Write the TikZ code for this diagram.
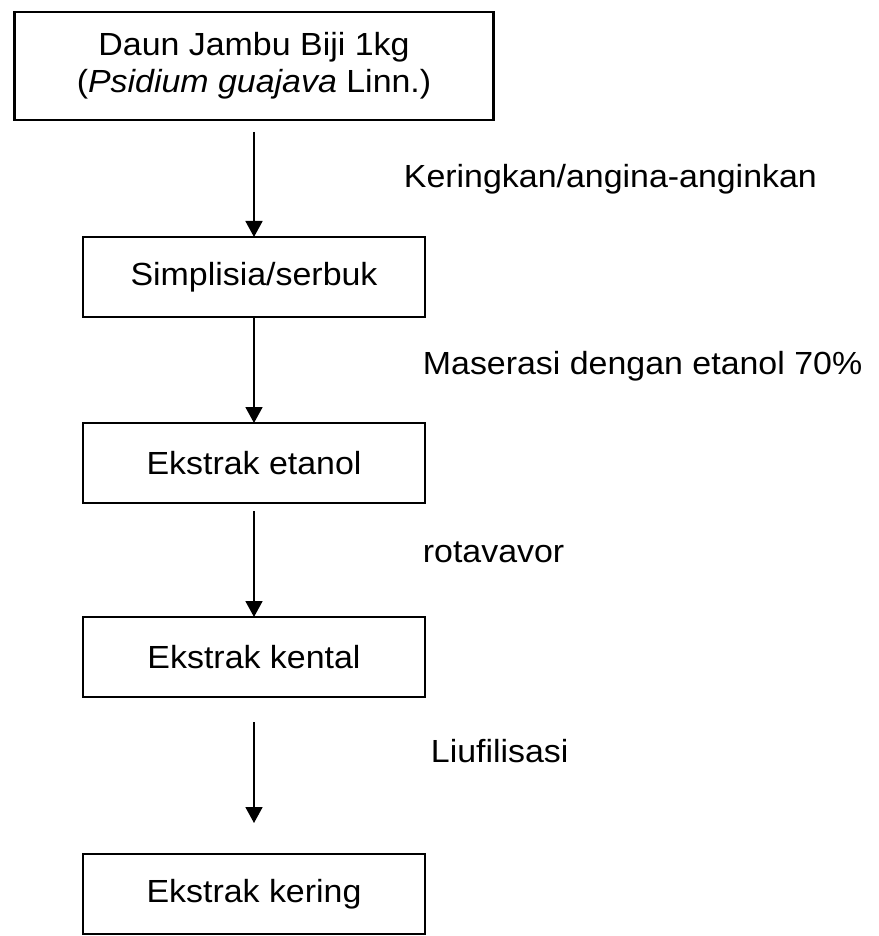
\documentclass[tikz,border=0pt]{standalone}
\usepackage{fontspec}
\setmainfont{Liberation Sans}[FakeStretch=1.06]
\usetikzlibrary{positioning,arrows.meta}

\begin{document}
\begin{tikzpicture}[x=1pt,y=1pt,
  stepbox/.style={draw,line width=1.3pt,outer sep=0pt,minimum width=171pt,minimum height=40pt,
    font=\fontsize{16}{18.5}\selectfont},
  startbox/.style={stepbox,minimum width=239.5pt,minimum height=54pt,align=center},
  flow/.style={line width=0.9pt,-{Triangle[length=8pt,width=8.5pt]}},
  lbl/.style={anchor=base west,inner sep=0pt,font=\fontsize{16}{18.5}\selectfont}]

  \useasboundingbox (0,0) rectangle (439,-468);

  \node[startbox] (daun) at (127,-33) {Daun Jambu Biji 1kg\\(\textit{Psidium guajava} Linn.)};

  \node[stepbox,below=58.5pt of daun] (simplisia) {Simplisia/serbuk};

  \node[stepbox,below=53pt of simplisia] (etanol) {Ekstrak etanol};

  \node[stepbox,below=57pt of etanol] (kental) {Ekstrak kental};

  \node[stepbox,below=78.5pt of kental] (kering) {Ekstrak kering};

  % arrows with process labels
  \draw[flow,shorten <=6pt] (daun) -- node[lbl,pos=0.576,xshift=74.5pt] {Keringkan/angina-anginkan} (simplisia);
  \draw[flow] (simplisia) -- node[lbl,pos=0.54,xshift=84pt] {Maserasi dengan etanol 70\%} (etanol);
  \draw[flow,shorten <=4pt] (etanol) -- node[lbl,pos=0.526,xshift=84pt] {rotavavor} (kental);
  \draw[flow,shorten <=12.5pt,shorten >=15.5pt] (kental) -- node[lbl,pos=0.415,xshift=88pt] {Liufilisasi} (kering);

\end{tikzpicture}
\end{document}
